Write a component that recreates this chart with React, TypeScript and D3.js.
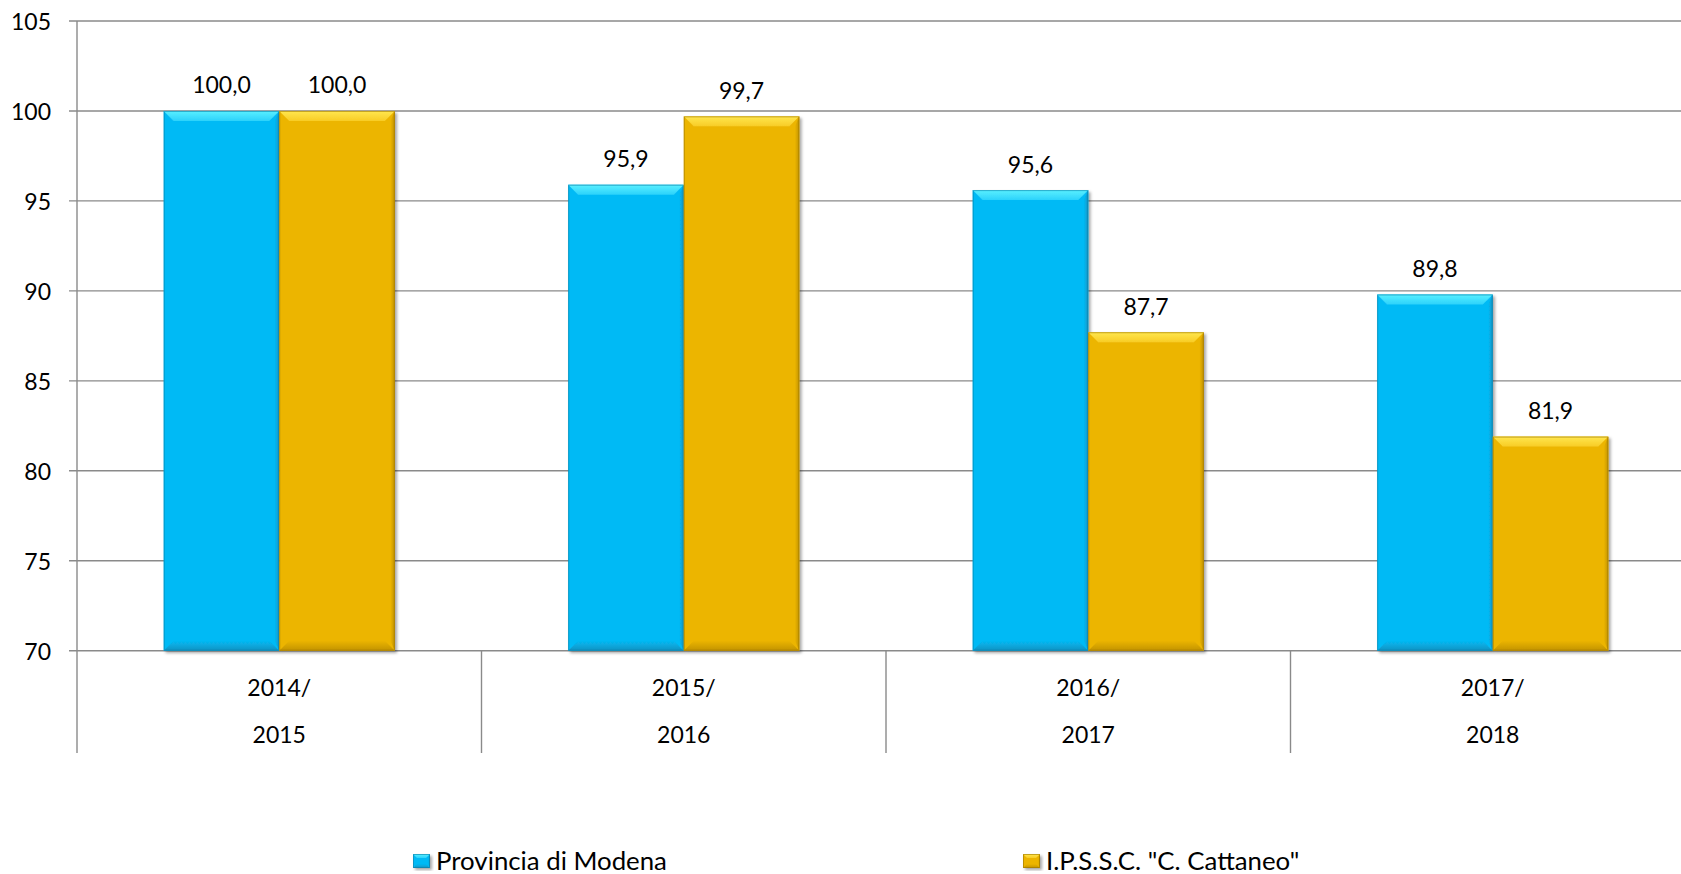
import React from "react";
import * as d3 from "d3";

const categories = ["2014/2015", "2015/2016", "2016/2017", "2017/2018"];
const catLine1 = ["2014/", "2015/", "2016/", "2017/"];
const catLine2 = ["2015", "2016", "2017", "2018"];
const seriesNames = ["Provincia di Modena", 'I.P.S.S.C. "C. Cattaneo"'];
const provincia = [100.0, 95.9, 95.6, 89.8];
const cattaneo = [100.0, 99.7, 87.7, 81.9];
const yTicks = [70, 75, 80, 85, 90, 95, 100, 105];

const W = 1681;
const H = 874;
const FONT = "Lato, 'Open Sans', sans-serif";

const palettes = [
  { id: "b", base: "#05BAF5", light: "#5AF0FF", mid: "#2CD2FB", dark: "#0B93C2", edge: "#0A7EA6" },
  { id: "y", base: "#ECB505", light: "#FFE74F", mid: "#F8CC25", dark: "#C29306", edge: "#9C7700" },
];

function BevelRect({ x, y, w, h, p, b = 10 }: any) {
  const x1 = x + w;
  const y1 = y + h;
  const bb = Math.min(b, h / 2, w / 2);
  const pts = (a: number[][]) => a.map((q) => q.join(",")).join(" ");
  return (
    <g filter="url(#shadow)">
      <rect x={x} y={y} width={w} height={h} fill={p.base} />
      <polygon points={pts([[x, y], [x1, y], [x1 - bb, y + bb], [x + bb, y + bb]])} fill={`url(#top-${p.id})`} />
      <polygon points={pts([[x1, y], [x1, y1], [x1 - bb * 0.45, y1 - bb], [x1 - bb * 0.45, y + bb]])} fill={`url(#right-${p.id})`} />
      <polygon points={pts([[x, y1], [x1, y1], [x1 - bb, y1 - bb], [x + bb, y1 - bb]])} fill={`url(#bot-${p.id})`} />
      <rect x={x + 0.5} y={y + 0.5} width={w - 1} height={h - 1} fill="none" stroke={p.edge} strokeWidth={1} opacity={0.6} />
    </g>
  );
}

export default function App() {
  const axisX = 77;
  const band = 404.5;
  const x = d3
    .scaleBand<string>()
    .domain(categories)
    .range([axisX, axisX + band * categories.length])
    .paddingInner(0)
    .paddingOuter(0);
  const y = d3.scaleLinear().domain([70, 105]).range([650.7, 21]);
  const barW = x.bandwidth() / 3.5;
  const sub = d3
    .scaleBand<number>()
    .domain([0, 1])
    .range([barW * 0.75, barW * 2.75])
    .padding(0);
  const series = [provincia, cattaneo];
  const grid = "#8A8A8A";
  const sepBottom = 753;

  const legendItems = [
    { sq: 413, tx: 436 },
    { sq: 1023, tx: 1046 },
  ];

  return (
    <svg
      width={W}
      height={H}
      style={{ position: "absolute", left: 0, top: 0, background: "#fff" }}
      fontFamily={FONT}
    >
      <defs>
        <filter id="shadow" x="-10%" y="-10%" width="130%" height="130%">
          <feDropShadow dx="2" dy="2" stdDeviation="1.8" floodColor="#000" floodOpacity="0.35" />
        </filter>
        {palettes.map((p) => (
          <React.Fragment key={p.id}>
            <linearGradient id={`top-${p.id}`} x1="0" y1="0" x2="0" y2="1">
              <stop offset="0" stopColor={p.light} />
              <stop offset="1" stopColor={p.mid} />
            </linearGradient>
            <linearGradient id={`bot-${p.id}`} x1="0" y1="0" x2="0" y2="1">
              <stop offset="0" stopColor={p.base} />
              <stop offset="1" stopColor={p.dark} />
            </linearGradient>
            <linearGradient id={`right-${p.id}`} x1="0" y1="0" x2="1" y2="0">
              <stop offset="0" stopColor={p.base} />
              <stop offset="1" stopColor={p.dark} />
            </linearGradient>
          </React.Fragment>
        ))}
      </defs>
      <rect x={0} y={0} width={W} height={H} fill="#fff" />
      {/* gridlines */}
      {yTicks.map((t) => (
        <g key={t}>
          <line x1={69} x2={W} y1={y(t)} y2={y(t)} stroke={grid} strokeWidth={1.4} />
          <text x={51} y={y(t)} textAnchor="end" dominantBaseline="central" fontSize={23} fill="#000">
            {t}
          </text>
        </g>
      ))}
      {/* y axis */}
      <line x1={axisX} x2={axisX} y1={y(105)} y2={sepBottom} stroke={grid} strokeWidth={1.4} />
      {/* category separators */}
      {categories.map((c) => (
        <line
          key={c}
          x1={(x(c) as number) + x.bandwidth()}
          x2={(x(c) as number) + x.bandwidth()}
          y1={y(70)}
          y2={sepBottom}
          stroke={grid}
          strokeWidth={1.4}
        />
      ))}
      {/* bars */}
      {categories.map((c, i) =>
        series.map((s, k) => {
          const bx = (x(c) as number) + (sub(k) as number);
          const by = y(s[i]);
          return (
            <BevelRect key={c + k} x={bx} y={by} w={sub.bandwidth()} h={y(70) - by} p={palettes[k]} />
          );
        })
      )}
      {/* bar labels */}
      {categories.map((c, i) =>
        series.map((s, k) => {
          const cx = (x(c) as number) + (sub(k) as number) + sub.bandwidth() / 2;
          return (
            <text key={c + "l" + k} x={cx} y={y(s[i]) - 17.5} textAnchor="middle" fontSize={23} fill="#000">
              {d3.format(".1f")(s[i]).replace(".", ",")}
            </text>
          );
        })
      )}
      {/* category labels */}
      {categories.map((c, i) => {
        const cx = (x(c) as number) + x.bandwidth() / 2;
        return (
          <g key={c + "x"}>
            <text x={cx} y={696} textAnchor="middle" fontSize={23} fill="#000">
              {catLine1[i]}
            </text>
            <text x={cx} y={743} textAnchor="middle" fontSize={23} fill="#000">
              {catLine2[i]}
            </text>
          </g>
        );
      })}
      {/* legend */}
      {legendItems.map((li, k) => (
        <g key={"lg" + k}>
          <BevelRect x={li.sq} y={854} w={17} h={14} p={palettes[k]} b={4} />
          <text x={li.tx} y={869.5} fontSize={25.8} fill="#000">
            {seriesNames[k]}
          </text>
        </g>
      ))}
    </svg>
  );
}
